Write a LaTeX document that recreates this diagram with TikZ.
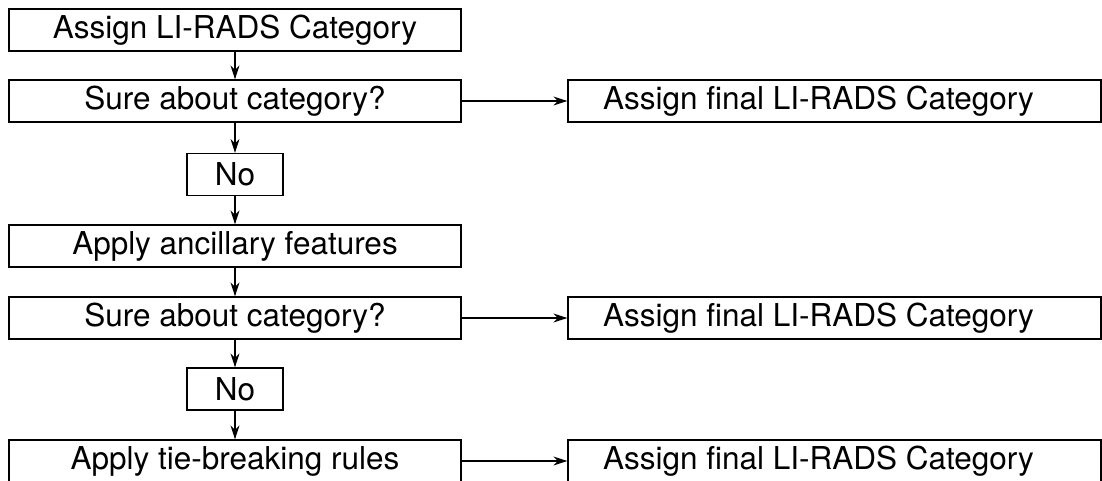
\documentclass[tikz,border=0pt]{standalone}
\usepackage{fontspec}
\setmainfont{TeX Gyre Heros}
\usetikzlibrary{arrows.meta}
\begin{document}
\begin{tikzpicture}[x=1pt,y=-1pt,
  boxfont/.style={font=\fontsize{31.5}{34}\selectfont},
  flowbox/.style={draw,line width=1.3pt,rectangle,inner sep=0pt,minimum height=42pt,boxfont},
  leftbox/.style={flowbox,minimum width=452pt},
  nobox/.style={flowbox,minimum width=96pt},
  rightbox/.style={flowbox,minimum width=533pt},
  conn/.style={line width=1.3pt,-{Stealth[length=14pt,width=9pt,inset=4.5pt]}}]
\useasboundingbox (0,0) rectangle (1102,480);
\node[leftbox] (a1) at (235,30) {Assign LI-RADS Category};
\node[leftbox] (s1) at (235,101) {Sure about category?};
\node[nobox] (n1) at (235,174.5) {No};
\node[leftbox] (ap) at (235,246) {Apply ancillary features};
\node[leftbox] (s2) at (235,318) {Sure about category?};
\node[nobox] (n2) at (235,389) {No};
\node[leftbox] (tb) at (235,461) {Apply tie-breaking rules};
\node[rightbox,label={[xshift=-16pt,boxfont]center:Assign final LI-RADS Category}] (r1) at (834.5,101) {};
\node[rightbox,label={[xshift=-16pt,boxfont]center:Assign final LI-RADS Category}] (r2) at (834.5,318) {};
\node[rightbox,label={[xshift=-16pt,boxfont]center:Assign final LI-RADS Category}] (r3) at (834.5,461) {};
\draw[conn] (a1) -- (s1);
\draw[conn] (s1) -- (n1);
\draw[conn] (n1) -- (ap);
\draw[conn] (ap) -- (s2);
\draw[conn] (s2) -- (n2);
\draw[conn] (n2) -- (tb);
\draw[conn] (s1) -- (r1);
\draw[conn] (s2) -- (r2);
\draw[conn] (tb) -- (r3);
\end{tikzpicture}
\end{document}
